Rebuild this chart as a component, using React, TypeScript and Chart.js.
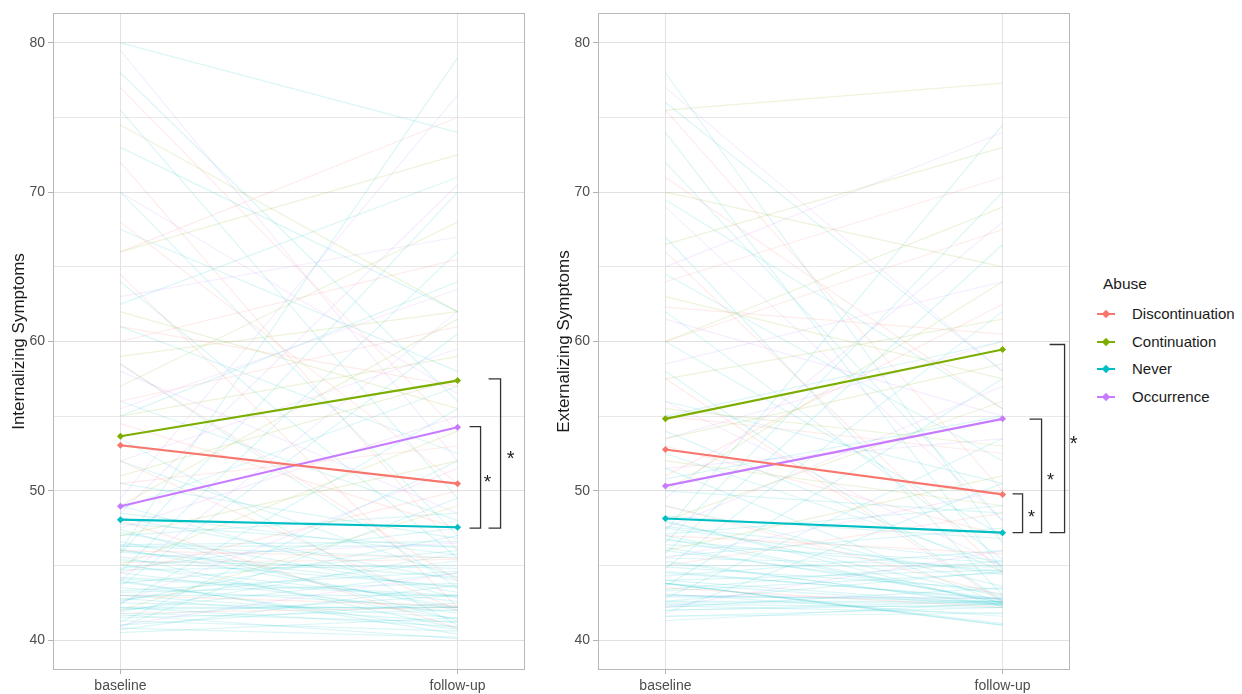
import React, { useEffect, useRef } from 'react';
import { Chart, registerables } from 'chart.js';

Chart.register(...registerables);

const FONT = '"Liberation Sans", Arial, sans-serif';

const GROUPS = ['Discontinuation', 'Continuation', 'Never', 'Occurrence'];
const GROUP_COLORS = ['#F8766D', '#7CAE00', '#00BFC4', '#C77CFF'];
const X_LABELS = ['baseline', 'follow-up'];
const Y_TICKS = [40, 45, 50, 55, 60, 65, 70, 75, 80];
const LEGEND_TITLE = 'Abuse';
const SIG_LABEL = '*';

// Group means [Discontinuation, Continuation, Never, Occurrence]
const INT_BASELINE_MEANS = [53.05, 53.66, 48.07, 48.96];
const INT_FOLLOWUP_MEANS = [50.48, 57.38, 47.56, 54.26];
const EXT_BASELINE_MEANS = [52.77, 54.82, 48.15, 50.33];
const EXT_FOLLOWUP_MEANS = [49.76, 59.46, 47.2, 54.82];

// Significance brackets [low, high]
const INT_BRACKETS = [[47.5, 54.3], [47.5, 57.5]];
const EXT_BRACKETS = [[47.2, 49.8], [47.2, 54.8], [47.2, 59.8]];

// Individual trajectories [baseline, follow-up] - Internalizing
const INT_NEVER = [
  [40.5, 41.5], [40.8, 40.2], [41.0, 42.5], [41.3, 40.6], [41.6, 43.0], [41.8, 41.2], [42.0, 44.5],
  [42.2, 40.9], [42.5, 42.0], [42.7, 45.3], [43.0, 41.5], [43.2, 43.8], [43.5, 42.2], [43.8, 46.0],
  [44.0, 40.4], [44.2, 43.0], [44.5, 41.8], [44.8, 47.5], [45.0, 42.6], [45.3, 44.8], [45.6, 40.8],
  [46.0, 43.5], [46.3, 45.5], [46.6, 42.0], [47.0, 48.5], [47.4, 41.3], [47.8, 46.2], [48.2, 44.0],
  [49.0, 42.8], [50.5, 46.8], [52.0, 44.2], [41.2, 52.0], [42.4, 55.5], [43.6, 60.5], [44.6, 66.0],
  [40.9, 49.5], [45.8, 70.0], [53.5, 41.0], [56.0, 48.0], [58.5, 43.5], [61.0, 52.5], [64.0, 45.5],
  [67.5, 58.0], [70.0, 47.0], [73.0, 62.0], [75.5, 49.5], [78.0, 56.0], [80.0, 74.0], [62.5, 71.0],
  [55.0, 64.0], [48.8, 57.0], [46.0, 79.0],
  [41.5, 42.0], [42.8, 41.2], [43.3, 44.6], [44.1, 42.9], [45.1, 41.4], [45.9, 44.2], [46.4, 46.6],
  [47.2, 43.2], [41.9, 45.8], [43.9, 40.7], [42.1, 42.2], [44.7, 45.0], [46.1, 42.2], [40.7, 43.7],
  [48.5, 45.7], [42.6, 47.0], [43.0, 43.0], [45.4, 43.6], [46.3, 46.3], [42.2, 42.2], [41.7, 40.1],
];
const INT_DISC = [
  [77.0, 54.0], [72.0, 46.0], [68.0, 50.5], [64.5, 42.2], [61.0, 57.0], [58.5, 44.0], [56.0, 61.0],
  [54.5, 47.5], [52.0, 42.0], [50.5, 53.0], [48.0, 40.8], [46.0, 45.5], [44.5, 50.0], [43.0, 42.3],
  [60.0, 65.5], [66.0, 75.0], [41.8, 42.2], [45.2, 45.4],
];
const INT_CONT = [
  [74.5, 62.0], [66.0, 72.5], [62.0, 55.5], [59.0, 62.0], [57.0, 68.0], [55.0, 59.0], [53.0, 50.5],
  [51.0, 57.5], [49.0, 61.5], [47.0, 52.0], [45.0, 54.0], [42.0, 49.0],
];
const INT_OCC = [
  [79.5, 52.0], [70.0, 56.5], [63.0, 67.0], [58.0, 48.5], [55.5, 63.5], [52.0, 59.5], [49.5, 76.5],
  [47.5, 55.0], [45.5, 46.5], [44.0, 62.0], [42.5, 51.5], [41.0, 44.5], [48.5, 70.5],
];

// Individual trajectories [baseline, follow-up] - Externalizing
const EXT_NEVER = [
  [41.3, 42.5], [41.6, 41.8], [42.0, 42.6], [42.2, 43.5], [42.4, 42.2], [42.6, 44.6], [42.9, 42.8],
  [43.1, 41.6], [43.4, 45.3], [43.8, 41.0], [44.0, 42.4], [44.3, 46.0], [44.6, 42.7], [45.0, 44.9],
  [45.3, 42.3], [45.6, 47.5], [46.0, 43.1], [46.4, 45.2], [46.8, 42.5], [47.1, 49.0], [47.5, 44.4],
  [47.9, 42.9], [48.3, 46.8], [49.0, 43.6], [50.0, 48.5], [51.5, 42.4], [52.5, 45.0], [54.0, 44.6],
  [56.0, 50.5], [58.0, 42.6], [60.0, 47.0], [62.0, 45.4], [64.5, 52.0], [67.0, 43.0], [69.5, 55.5],
  [72.0, 48.0], [74.0, 44.7], [76.0, 58.0], [78.0, 46.5], [42.8, 53.5], [43.6, 57.5], [44.8, 62.0],
  [45.8, 66.5], [46.5, 70.0], [41.8, 50.5], [47.3, 74.5], [55.0, 60.0], [50.8, 55.0],
  [42.0, 42.4], [42.5, 42.5], [43.0, 42.6], [43.8, 42.3], [44.5, 42.8], [45.2, 42.4], [46.2, 42.7],
  [47.0, 42.5], [48.0, 42.3], [44.0, 44.7], [45.5, 45.0], [46.7, 44.6], [43.3, 44.5], [42.3, 41.8],
  [43.8, 41.0], [41.6, 42.2], [44.9, 43.4], [47.6, 45.3], [43.8, 41.1], [42.6, 42.6],
];
const EXT_DISC = [
  [75.5, 50.0], [71.0, 55.5], [66.0, 44.5], [62.3, 60.5], [60.0, 67.5], [57.5, 42.5], [55.0, 52.5],
  [53.0, 47.0], [51.0, 62.5], [49.0, 43.0], [47.0, 45.8], [45.0, 48.5], [43.5, 42.2], [64.0, 71.0],
];
const EXT_CONT = [
  [75.5, 77.3], [70.0, 65.0], [66.5, 73.0], [63.0, 57.5], [60.0, 69.0], [57.5, 61.5], [55.5, 53.0],
  [53.5, 58.5], [52.0, 49.0], [50.0, 64.0], [48.0, 56.0], [46.0, 51.0],
];
const EXT_OCC = [
  [77.0, 58.0], [69.0, 48.0], [65.0, 74.0], [61.5, 55.0], [58.5, 64.0], [56.0, 45.0], [53.5, 60.0],
  [51.5, 53.5], [49.5, 68.0], [47.5, 57.0], [45.5, 50.0], [43.0, 42.8], [42.2, 46.0],
];

function hexA(hex: string, a: number) {
  const n = parseInt(hex.slice(1), 16);
  return `rgba(${(n >> 16) & 255},${(n >> 8) & 255},${n & 255},${a})`;
}

type BracketGeom = { start: number; end: number; text: number; size: number };

function makeDecorPlugin(brackets: number[][], geom: BracketGeom[]) {
  return {
    id: 'panelDecor',
    afterDraw(chart: any) {
      const { ctx, chartArea: a, scales } = chart;
      ctx.save();
      ctx.strokeStyle = '#b8b8b8';
      ctx.lineWidth = 1;
      ctx.strokeRect(Math.round(a.left) + 0.5, Math.round(a.top) + 0.5, Math.round(a.right - a.left) - 1, Math.round(a.bottom - a.top) - 1);
      const xs = scales.x.getPixelForValue(1);
      brackets.forEach((b, i) => {
        const g = geom[i];
        const y1 = scales.y.getPixelForValue(b[0]);
        const y2 = scales.y.getPixelForValue(b[1]);
        const x0 = xs + g.start;
        const x1 = xs + g.end;
        ctx.strokeStyle = '#333333';
        ctx.lineWidth = 1.3;
        ctx.beginPath();
        ctx.moveTo(x0, y2);
        ctx.lineTo(x1, y2);
        ctx.lineTo(x1, y1);
        ctx.lineTo(x0, y1);
        ctx.stroke();
        ctx.fillStyle = '#222222';
        ctx.font = `${g.size}px ${FONT}`;
        ctx.textAlign = 'center';
        ctx.textBaseline = 'alphabetic';
        ctx.fillText(SIG_LABEL, xs + g.text, (y1 + y2) / 2 + 0.57 * g.size);
      });
      ctx.restore();
    },
  };
}

function Panel(props: {
  left: number;
  title: string;
  individuals: number[][][];
  baseMeans: number[];
  followMeans: number[];
  brackets: number[][];
  geom: BracketGeom[];
}) {
  const ref = useRef<HTMLCanvasElement>(null);
  useEffect(() => {
    if (!ref.current) return;
    const datasets: any[] = [];
    props.individuals.forEach((list, g) => {
      list.forEach(([b, f]) => {
        datasets.push({
          data: [{ x: 0, y: b }, { x: 1, y: f }],
          borderColor: hexA(GROUP_COLORS[g], 0.14),
          borderWidth: 1.2,
          pointRadius: 0,
          order: 2,
        });
      });
    });
    GROUPS.forEach((name, g) => {
      datasets.push({
        label: name,
        data: [{ x: 0, y: props.baseMeans[g] }, { x: 1, y: props.followMeans[g] }],
        borderColor: GROUP_COLORS[g],
        backgroundColor: GROUP_COLORS[g],
        borderWidth: 2.1,
        pointRadius: 3.5,
        pointStyle: 'rectRot',
        pointBorderWidth: 0,
        order: 0,
      });
    });
    const chart = new Chart(ref.current, {
      type: 'line',
      data: { datasets },
      options: {
        responsive: false,
        animation: false,
        events: [],
        layout: { padding: { left: 0, right: 15, top: 13, bottom: 0 } },
        plugins: { legend: { display: false }, tooltip: { enabled: false } },
        scales: {
          x: {
            type: 'linear',
            min: -0.2,
            max: 1.2,
            afterBuildTicks: (s: any) => {
              s.ticks = X_LABELS.map((_, i) => ({ value: i }));
            },
            afterFit: (s: any) => {
              s.height = 24;
            },
            ticks: {
              callback: (v: any) => X_LABELS[v] ?? '',
              color: '#4d4d4d',
              font: { family: FONT, size: 14 },
              padding: 4,
              maxRotation: 0,
              autoSkip: false,
            },
            grid: { color: '#e2e2e2', lineWidth: 1, tickLength: 4, tickColor: '#b3b3b3' },
            border: { display: false },
          },
          y: {
            type: 'linear',
            min: 38,
            max: 82,
            afterBuildTicks: (s: any) => {
              s.ticks = Y_TICKS.map((v) => ({ value: v }));
            },
            afterFit: (s: any) => {
              s.width = 53;
            },
            ticks: {
              callback: (v: any) => (v % 10 === 0 ? String(v) : ''),
              color: '#4d4d4d',
              font: { family: FONT, size: 14 },
              padding: 3,
              autoSkip: false,
            },
            grid: {
              color: (c: any) => (c.tick && c.tick.value % 10 === 0 ? '#e0e0e0' : '#e8e8e8'),
              lineWidth: 1,
              tickLength: 5,
              tickColor: (c: any) => (c.tick && c.tick.value % 10 === 0 ? '#b3b3b3' : 'rgba(0,0,0,0)'),
            },
            border: { display: false },
            title: {
              display: true,
              text: props.title,
              color: '#1a1a1a',
              font: { family: FONT, size: 17 },
              padding: { top: 9, bottom: 0 },
            },
          },
        },
      },
      plugins: [makeDecorPlugin(props.brackets, props.geom)],
    } as any);
    return () => chart.destroy();
  }, []);
  return (
    <canvas
      ref={ref}
      width={540}
      height={694}
      style={{ position: 'absolute', left: props.left, top: 0, width: 540, height: 694 }}
    />
  );
}

export default function App() {
  const legendRows = [314, 341.5, 369, 397];
  return (
    <div style={{ position: 'absolute', left: 0, top: 0, width: 1242, height: 694, background: '#fff', overflow: 'hidden' }}>
      <Panel
        left={0}
        title="Internalizing Symptoms"
        individuals={[INT_DISC, INT_CONT, INT_NEVER, INT_OCC]}
        baseMeans={INT_BASELINE_MEANS}
        followMeans={INT_FOLLOWUP_MEANS}
        brackets={INT_BRACKETS}
        geom={[
          { start: 12, end: 23, text: 30, size: 19 },
          { start: 31, end: 43, text: 53, size: 20 },
        ]}
      />
      <Panel
        left={545}
        title="Externalizing Symptoms"
        individuals={[EXT_DISC, EXT_CONT, EXT_NEVER, EXT_OCC]}
        baseMeans={EXT_BASELINE_MEANS}
        followMeans={EXT_FOLLOWUP_MEANS}
        brackets={EXT_BRACKETS}
        geom={[
          { start: 10, end: 20, text: 29, size: 18 },
          { start: 27, end: 39, text: 48, size: 18 },
          { start: 47, end: 62, text: 71, size: 20 },
        ]}
      />
      <div
        style={{
          position: 'absolute', left: 1103, top: 274, height: 20, lineHeight: '20px',
          fontFamily: FONT, fontSize: 15.5, color: '#1a1a1a', whiteSpace: 'nowrap',
        }}
      >
        {LEGEND_TITLE}
      </div>
      {GROUPS.map((name, i) => (
        <div key={name} style={{ position: 'absolute', left: 1097, top: legendRows[i] - 10, height: 20, width: 145 }}>
          <div style={{ position: 'absolute', left: 0, top: 9, width: 18, height: 2, background: GROUP_COLORS[i] }} />
          <div
            style={{
              position: 'absolute', left: 6, top: 7, width: 6, height: 6,
              background: GROUP_COLORS[i], transform: 'rotate(45deg)',
            }}
          />
          <div
            style={{
              position: 'absolute', left: 35, top: 0, height: 20, lineHeight: '20px',
              fontFamily: FONT, fontSize: 15, color: '#1a1a1a', whiteSpace: 'nowrap',
            }}
          >
            {name}
          </div>
        </div>
      ))}
    </div>
  );
}
